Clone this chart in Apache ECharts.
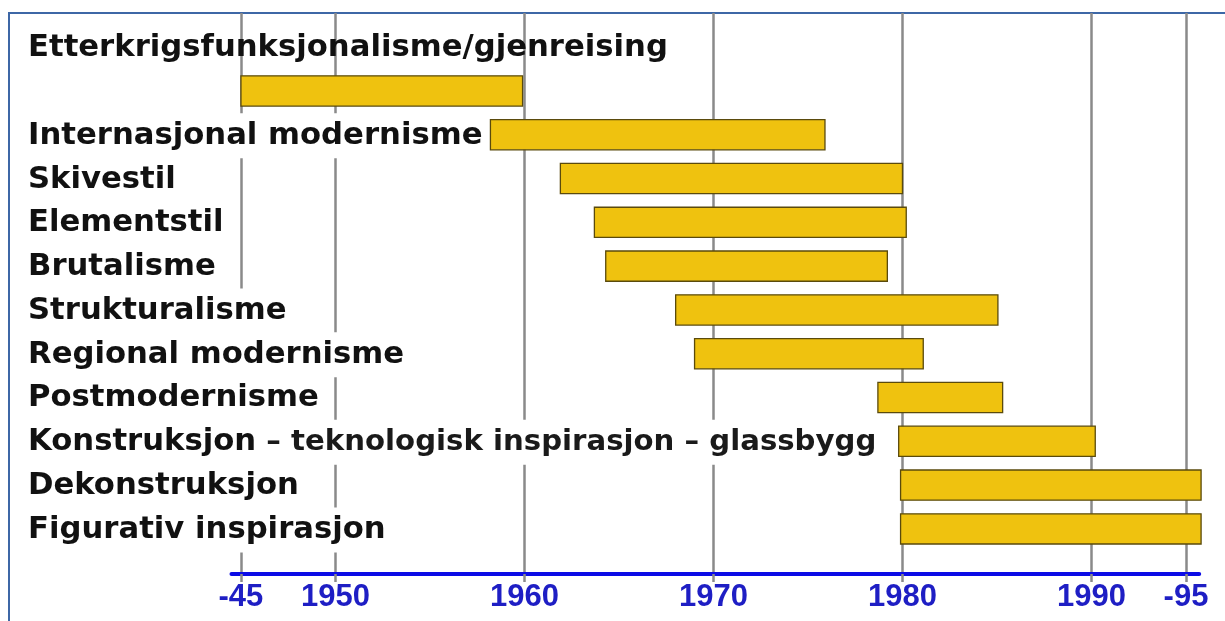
<!DOCTYPE html>
<html>
<head>
<meta charset="utf-8">
<script src="https://cdn.jsdelivr.net/npm/echarts@6/dist/echarts.min.js"></script>
<style>
  html, body { margin: 0; padding: 0; background: #ffffff; }
  #chart { width: 1225px; height: 621px; }
</style>
</head>
<body>
<div id="chart"></div>
<script>
// ---- data ----
const styleNames = [
  "Etterkrigsfunksjonalisme/gjenreising",
  "Internasjonal modernisme",
  "Skivestil",
  "Elementstil",
  "Brutalisme",
  "Strukturalisme",
  "Regional modernisme",
  "Postmodernisme",
  "Konstruksjon – teknologisk inspirasjon – glassbygg",
  "Dekonstruksjon",
  "Figurativ inspirasjon"
];
const startYears = [1945, 1958.2, 1961.9, 1963.7, 1964.3, 1968.0, 1969.0, 1978.7, 1979.8, 1979.9, 1979.9];
const endYears   = [1959.9, 1975.9, 1980.0, 1980.2, 1979.2, 1985.05, 1981.1, 1985.3, 1990.2, 1995.8, 1995.8];
const tickYears  = [1945, 1950, 1960, 1970, 1980, 1990, 1995];
const tickLabels = ["-45", "1950", "1960", "1970", "1980", "1990", "-95"];

// ---- build ----
const seriesData = styleNames.map((name, i) => [startYears[i], endYears[i], i]);

function richLabel(name) {
  const k = name.indexOf(' – ');
  if (k < 0) return '{a|' + name + '}';
  return '{a|' + name.slice(0, k) + '}{b|' + name.slice(k) + '}';
}

const chart = echarts.init(document.getElementById('chart'), null, { renderer: 'canvas' });

const option = {
  backgroundColor: '#ffffff',
  animation: false,
  graphic: [{
    type: 'rect',
    silent: true,
    z: -10,
    shape: { x: 9, y: 13, width: 1400, height: 900 },
    style: { fill: 'none', stroke: '#3d67a6', lineWidth: 2 }
  }],
  grid: { left: 231.5, right: 25.8, top: 13, bottom: 47, containLabel: false },
  xAxis: {
    type: 'value',
    min: 1944.5,
    max: 1995.7,
    axisLine: { show: true, onZero: false, lineStyle: { color: '#0b0be6', width: 4 } },
    axisTick: {
      show: true, customValues: tickYears, length: 8, inside: false,
      lineStyle: { color: '#8a8a8a', width: 2.5 }
    },
    axisLabel: {
      show: true, customValues: tickYears, margin: 8,
      color: '#1e1ec4', fontSize: 31, fontWeight: 'bold',
      fontFamily: '"Liberation Sans", Arial, sans-serif',
      formatter: (v) => {
        const idx = tickYears.indexOf(Math.round(v));
        return idx >= 0 ? tickLabels[idx] : '';
      }
    },
    splitLine: { show: true, lineStyle: { color: '#8a8a8a', width: 2.5 } }
  },
  yAxis: {
    type: 'value',
    inverse: true,
    min: -0.78,
    max: 12.03,
    show: false
  },
  series: [{
    type: 'custom',
    clip: false,
    z: 5,
    data: seriesData,
    renderItem: function (params, api) {
      const i = api.value(2);
      const barRow = i + 1;
      const labelRow = i === 0 ? 0 : i + 1;
      const p0 = api.coord([api.value(0), barRow]);
      const p1 = api.coord([api.value(1), barRow]);
      const h = api.size([0, 1])[1] * 0.69;
      const lp = api.coord([1945, labelRow]);
      const children = [];
      children.push({
        type: 'text',
        z2: 1,
        style: {
          text: richLabel(styleNames[i]),
          x: 25,
          y: lp[1] + 1,
          verticalAlign: 'middle',
          align: 'left',
          fill: '#111111',
          rich: {
            a: { font: 'bold 30.7px "DejaVu Sans", sans-serif', fill: '#111111' },
            b: { font: 'bold 29.2px "DejaVu Sans", sans-serif', fill: '#1a1a1a' }
          },
          backgroundColor: i === 0 ? 'transparent' : '#ffffff',
          padding: [7, 2, 7, 3]
        }
      });
      children.push({
        type: 'rect',
        z2: 2,
        shape: { x: p0[0], y: p0[1] - h / 2, width: p1[0] - p0[0], height: h },
        style: { fill: '#EFC20F', stroke: '#5a4a0c', lineWidth: 1.3 }
      });
      return { type: 'group', children: children };
    }
  }]
};

chart.setOption(option);
</script>
</body>
</html>
